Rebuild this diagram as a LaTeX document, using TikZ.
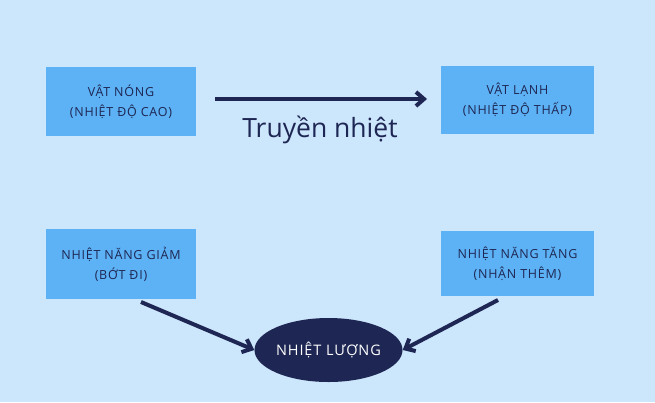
\documentclass[tikz,border=0pt]{standalone}
\usepackage{fontspec}
\setmainfont{Open Sans}
\newfontfamily\spaced[LetterSpace=6]{Open Sans}
\usetikzlibrary{shapes.geometric,arrows.meta}
\definecolor{bg}{HTML}{CCE6FC}
\definecolor{boxc}{HTML}{5CB2F4}
\definecolor{navy}{HTML}{1E2653}
\tikzset{
  box/.style={fill=boxc, draw=none, minimum width=150pt, minimum height=69pt, text=navy, align=center, font=\spaced\fontsize{12.5}{20}\selectfont},
  conn/.style={draw=navy, line width=4pt, -{Straight Barb[length=8pt,width=14pt,line width=4pt]}}
}
\begin{document}
\begin{tikzpicture}[x=1pt,y=-1pt]
\fill[bg] (0,0) rectangle (655,402);
\useasboundingbox (0,0) rectangle (655,402);
\node[box] (hot) at (121,101.5) {VẬT NÓNG\\(NHIỆT ĐỘ CAO)};
\node[box, minimum width=153pt, minimum height=68pt] (cold) at (517.5,100) {VẬT LẠNH\\(NHIỆT ĐỘ THẤP)};
\node[box, minimum height=70pt] (dec) at (121,264) {NHIỆT NĂNG GIẢM\\(BỚT ĐI)};
\node[box, minimum width=153pt, minimum height=65pt] (inc) at (517.5,263.5) {NHIỆT NĂNG TĂNG\\(NHẬN THÊM)};
\node[ellipse, fill=navy, minimum width=130pt, minimum height=64pt, inner sep=0pt, text=white, font=\spaced\fontsize{14.5}{18}\selectfont] (q) at (328.5,350) {NHIỆT LƯỢNG};
\coordinate (a1) at (215,99);
\coordinate (a2) at (427,99);
\draw[conn] (a1) -- (a2);
\node[text=navy, font=\fontsize{26.5}{30}\selectfont] (lbl) at (320,130) {Truyền nhiệt};
\coordinate (d1) at (141,302);
\coordinate (i1) at (498,300);
\draw[conn] (d1) -- (q.west);
\draw[conn] (i1) -- (q.east);
\end{tikzpicture}
\end{document}
